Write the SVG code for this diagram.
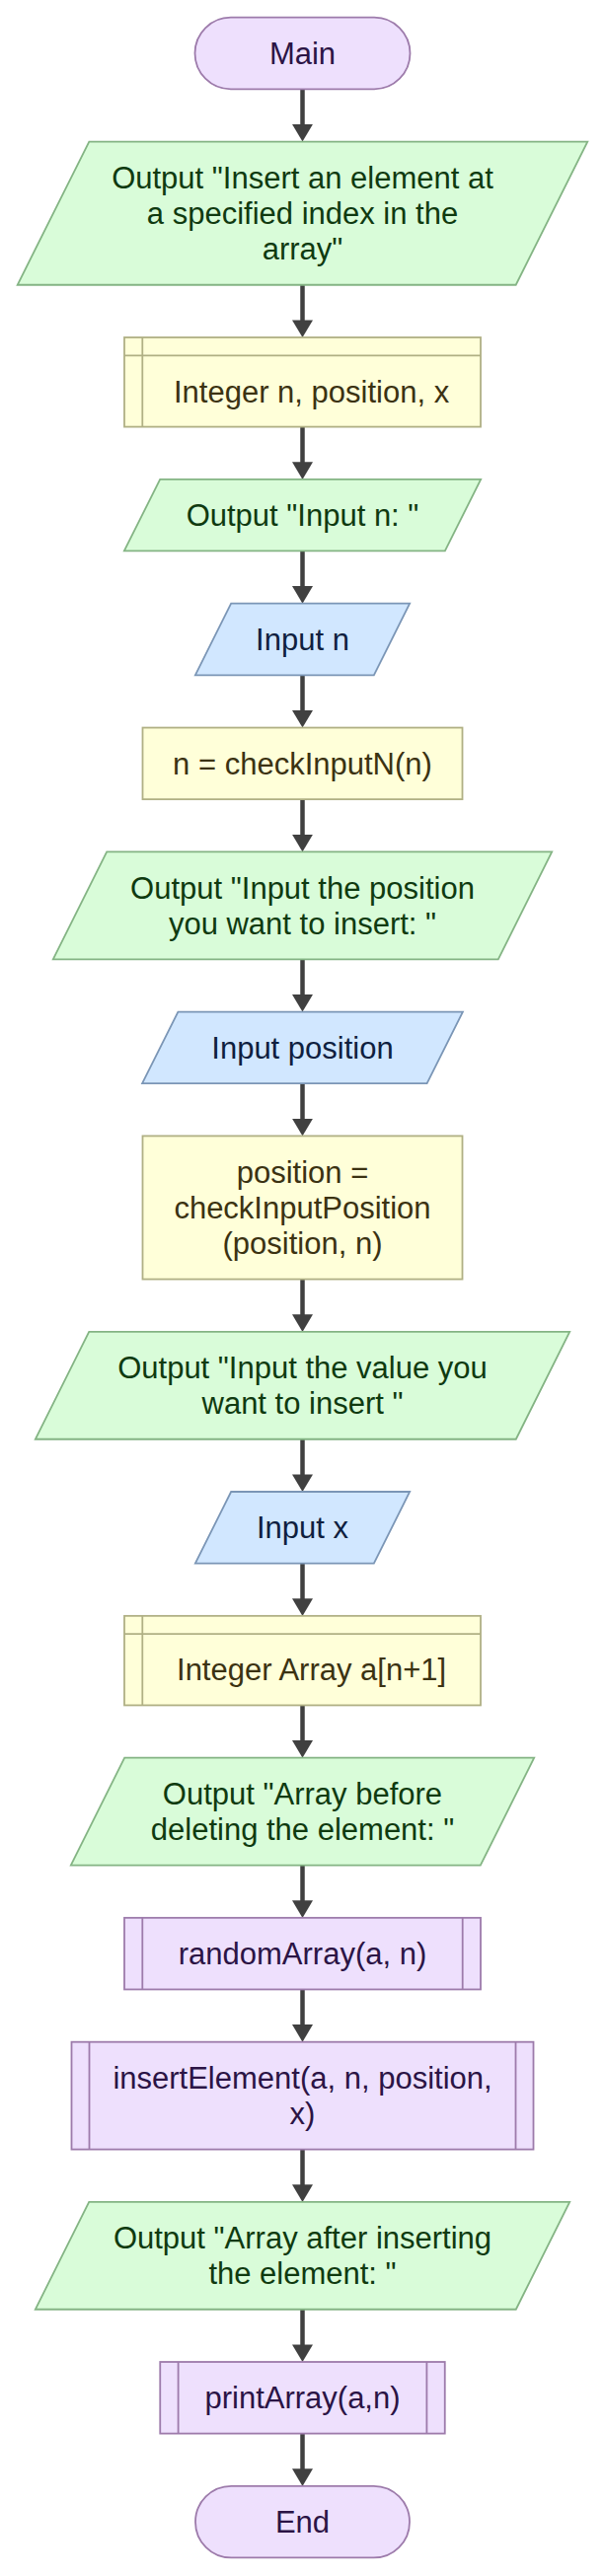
<svg xmlns="http://www.w3.org/2000/svg" width="613" height="2611" viewBox="0 0 613 2611">
<style>
text{font-family:"Liberation Sans",Arial,sans-serif;font-size:31px;text-anchor:middle}
.term{fill:#eee0fd;stroke:#9d7bab;stroke-width:1.8}
.sub{fill:#eee0fd;stroke:#9d7bab;stroke-width:1.8}
.out{fill:#d9fcd9;stroke:#84b484;stroke-width:1.8}
.proc{fill:#ffffd9;stroke:#b0b084;stroke-width:1.8}
.inp{fill:#d1e7ff;stroke:#7b96b6;stroke-width:1.8}
.tp{fill:#2b1445}
.tg{fill:#0f3a10}
.ty{fill:#3b3212}
.tb{fill:#0f1f3f}
.edge{stroke:#404040;stroke-width:4.5;fill:none;marker-end:url(#arr)}
</style>
<defs>
<marker id="arr" viewBox="0 0 17.6 21" refX="5.6" refY="10.5" markerWidth="17.6" markerHeight="21" markerUnits="userSpaceOnUse" orient="auto">
<path d="M0,0 L17.6,10.5 L0,21 z" fill="#404040"/>
</marker>
</defs>
<rect width="613" height="2611" fill="#ffffff"/>
<g id="connectors">
<path class="edge" d="M306.5,90.3 V131.5"/>
<path class="edge" d="M306.5,288.8 V330"/>
<path class="edge" d="M306.5,432.6 V473.9"/>
<path class="edge" d="M306.5,558.5 V599.7"/>
<path class="edge" d="M306.5,684.3 V725.6"/>
<path class="edge" d="M306.5,810.2 V851.4"/>
<path class="edge" d="M306.5,972.3 V1013.6"/>
<path class="edge" d="M306.5,1098.2 V1139.4"/>
<path class="edge" d="M306.5,1296.6 V1337.9"/>
<path class="edge" d="M306.5,1458.8 V1500"/>
<path class="edge" d="M306.5,1584.6 V1625.9"/>
<path class="edge" d="M306.5,1728.5 V1769.7"/>
<path class="edge" d="M306.5,1890.6 V1931.9"/>
<path class="edge" d="M306.5,2016.5 V2057.7"/>
<path class="edge" d="M306.5,2178.6 V2219.9"/>
<path class="edge" d="M306.5,2340.8 V2382"/>
<path class="edge" d="M306.5,2466.6 V2507.9"/>
</g>
<g id="main">
<rect class="term" x="197.5" y="17.7" width="218" height="72.6" rx="36.3"/>
<text class="tp" x="306.5" y="65">Main</text>
</g>
<g id="out1">
<polygon class="out" points="90.3,143.55 595.3,143.55 522.7,288.75 17.7,288.75"/>
<text class="tg" x="306.5" y="191.2">Output "Insert an element at</text>
<text class="tg" x="306.5" y="227.2">a specified index in the</text>
<text class="tg" x="306.5" y="263.2">array"</text>
</g>
<g id="decl1">
<rect class="proc" x="126" y="342" width="361" height="90.6"/>
<line class="proc" x1="144.3" y1="342" x2="144.3" y2="432.6"/>
<line class="proc" x1="126" y1="360.3" x2="487" y2="360.3"/>
<text class="ty" x="315.6" y="407.5">Integer n, position, x</text>
</g>
<g id="outN">
<polygon class="out" points="162.15,485.85 487.15,485.85 450.85,558.45 125.85,558.45"/>
<text class="tg" x="306.5" y="533.2">Output "Input n: "</text>
</g>
<g id="inputN">
<polygon class="inp" points="234.15,611.7 415.15,611.7 378.85,684.3 197.85,684.3"/>
<text class="tb" x="306.5" y="659">Input n</text>
</g>
<g id="checkN">
<rect class="proc" x="144.5" y="737.55" width="324" height="72.6"/>
<text class="ty" x="306.5" y="784.9">n = checkInputN(n)</text>
</g>
<g id="out2">
<polygon class="out" points="108.2,863.4 559.2,863.4 504.8,972.3 53.8,972.3"/>
<text class="tg" x="306.5" y="910.9">Output "Input the position</text>
<text class="tg" x="306.5" y="946.9">you want to insert: "</text>
</g>
<g id="inputPos">
<polygon class="inp" points="180.4,1025.55 468.9,1025.55 432.6,1098.15 144.1,1098.15"/>
<text class="tb" x="306.5" y="1072.9">Input position</text>
</g>
<g id="posBox">
<rect class="proc" x="144.5" y="1151.4" width="324" height="145.2"/>
<text class="ty" x="306.5" y="1199">position =</text>
<text class="ty" x="306.5" y="1235">checkInputPosition</text>
<text class="ty" x="306.5" y="1271">(position, n)</text>
</g>
<g id="outVal">
<polygon class="out" points="90.2,1349.85 577.2,1349.85 522.8,1458.75 35.8,1458.75"/>
<text class="tg" x="306.5" y="1397.3">Output "Input the value you</text>
<text class="tg" x="306.5" y="1433.3">want to insert "</text>
</g>
<g id="inputX">
<polygon class="inp" points="234.15,1512 415.15,1512 378.85,1584.6 197.85,1584.6"/>
<text class="tb" x="306.5" y="1559.3">Input x</text>
</g>
<g id="decl2">
<rect class="proc" x="126" y="1637.85" width="361" height="90.6"/>
<line class="proc" x1="144.3" y1="1637.85" x2="144.3" y2="1728.45"/>
<line class="proc" x1="126" y1="1656.15" x2="487" y2="1656.15"/>
<text class="ty" x="315.6" y="1703.3">Integer Array a[n+1]</text>
</g>
<g id="outBefore">
<polygon class="out" points="126.2,1781.7 541.2,1781.7 486.8,1890.6 71.8,1890.6"/>
<text class="tg" x="306.5" y="1829.2">Output "Array before</text>
<text class="tg" x="306.5" y="1865.2">deleting the element: "</text>
</g>
<g id="randomArray">
<rect class="sub" x="126" y="1943.85" width="361" height="72.6"/>
<line class="sub" x1="144.3" y1="1943.85" x2="144.3" y2="2016.45"/>
<line class="sub" x1="468.7" y1="1943.85" x2="468.7" y2="2016.45"/>
<text class="tp" x="306.5" y="1991.2">randomArray(a, n)</text>
</g>
<g id="insertElement">
<rect class="sub" x="72.5" y="2069.7" width="468" height="108.9"/>
<line class="sub" x1="90.5" y1="2069.7" x2="90.5" y2="2178.6"/>
<line class="sub" x1="522.5" y1="2069.7" x2="522.5" y2="2178.6"/>
<text class="tp" x="306.5" y="2117.2">insertElement(a, n, position,</text>
<text class="tp" x="306.5" y="2153.2">x)</text>
</g>
<g id="outAfter">
<polygon class="out" points="90.2,2231.85 577.2,2231.85 522.8,2340.75 35.8,2340.75"/>
<text class="tg" x="306.5" y="2279.3">Output "Array after inserting</text>
<text class="tg" x="306.5" y="2315.3">the element: "</text>
</g>
<g id="printArray">
<rect class="sub" x="162.25" y="2394" width="288.5" height="72.6"/>
<line class="sub" x1="180.6" y1="2394" x2="180.6" y2="2466.6"/>
<line class="sub" x1="432.4" y1="2394" x2="432.4" y2="2466.6"/>
<text class="tp" x="306.5" y="2441.3">printArray(a,n)</text>
</g>
<g id="end">
<rect class="term" x="198" y="2519.85" width="217" height="72.6" rx="36.3"/>
<text class="tp" x="306.5" y="2567.2">End</text>
</g>
</svg>
